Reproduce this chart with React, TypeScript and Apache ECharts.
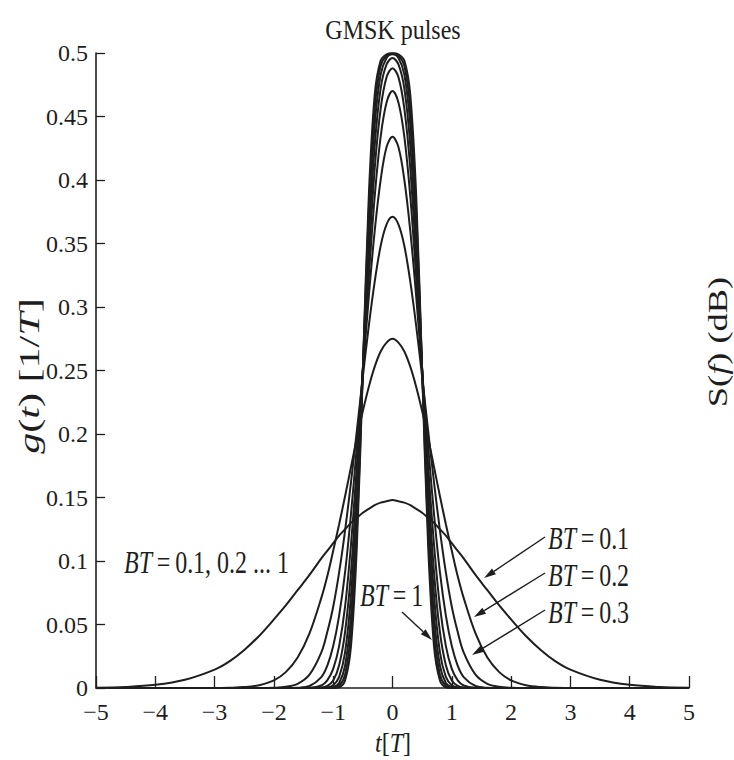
import React, { useEffect, useRef } from 'react';
import * as echarts from 'echarts';

const FONT = "'Liberation Serif', 'Times New Roman', Times, serif";
const INK = '#1e1e1e';

// t values (in units of T) for the right half of each symmetric pulse; the left half mirrors it
const T_HALF = [0, 0.1, 0.2, 0.3, 0.4, 0.5, 0.6, 0.7, 0.8, 0.9, 1.0, 1.1, 1.2, 1.4, 1.6, 1.8, 2.0, 2.25, 2.5, 2.75, 3.0, 3.5, 4.0, 4.5, 5.0];

// g(t) [1/T], one list per BT
const G_BT_01 = [0.148, 0.147, 0.146, 0.144, 0.141, 0.138, 0.134, 0.130, 0.125, 0.120, 0.114, 0.108, 0.102, 0.089, 0.077, 0.065, 0.054, 0.041, 0.030, 0.021, 0.0145, 0.0065, 0.0025, 0.0008, 0.0002];
const G_BT_02 = [0.275, 0.272, 0.265, 0.253, 0.237, 0.218, 0.197, 0.174, 0.151, 0.129, 0.108, 0.088, 0.071, 0.043, 0.024, 0.0125, 0.006, 0.0022, 0.0007, 0.0002, 0, 0, 0, 0, 0];
const G_BT_03 = [0.371, 0.365, 0.348, 0.320, 0.285, 0.245, 0.203, 0.162, 0.124, 0.091, 0.064, 0.044, 0.028, 0.0105, 0.0033, 0.0009, 0.0002, 0, 0, 0, 0, 0, 0, 0, 0];
const G_BT_04 = [0.434, 0.426, 0.400, 0.360, 0.308, 0.249, 0.191, 0.137, 0.091, 0.057, 0.033, 0.0175, 0.0086, 0.0016, 0.0002, 0, 0, 0, 0, 0, 0, 0, 0, 0, 0];
const G_BT_05 = [0.470, 0.461, 0.434, 0.387, 0.323, 0.250, 0.176, 0.113, 0.064, 0.033, 0.015, 0.006, 0.002, 0.0002, 0, 0, 0, 0, 0, 0, 0, 0, 0, 0, 0];
const G_BT_06 = [0.488, 0.481, 0.456, 0.409, 0.337, 0.250, 0.163, 0.091, 0.044, 0.018, 0.006, 0.0017, 0.0004, 0, 0, 0, 0, 0, 0, 0, 0, 0, 0, 0, 0];
const G_BT_07 = [0.496, 0.491, 0.472, 0.427, 0.351, 0.250, 0.149, 0.073, 0.028, 0.0087, 0.0021, 0.0004, 0, 0, 0, 0, 0, 0, 0, 0, 0, 0, 0, 0, 0];
const G_BT_08 = [0.499, 0.496, 0.483, 0.443, 0.364, 0.250, 0.137, 0.057, 0.0175, 0.004, 0.0007, 0.0001, 0, 0, 0, 0, 0, 0, 0, 0, 0, 0, 0, 0, 0];
const G_BT_09 = [0.4997, 0.498, 0.490, 0.456, 0.376, 0.250, 0.124, 0.044, 0.0104, 0.0016, 0.0002, 0, 0, 0, 0, 0, 0, 0, 0, 0, 0, 0, 0, 0, 0];
const G_BT_10 = [0.4999, 0.499, 0.494, 0.467, 0.387, 0.250, 0.113, 0.033, 0.006, 0.0006, 0.0001, 0, 0, 0, 0, 0, 0, 0, 0, 0, 0, 0, 0, 0, 0];

const BT_NAMES = ['BT=0.1', 'BT=0.2', 'BT=0.3', 'BT=0.4', 'BT=0.5', 'BT=0.6', 'BT=0.7', 'BT=0.8', 'BT=0.9', 'BT=1'];
const BT_CURVES = [G_BT_01, G_BT_02, G_BT_03, G_BT_04, G_BT_05, G_BT_06, G_BT_07, G_BT_08, G_BT_09, G_BT_10];

const X_MIN = -5;
const X_MAX = 5;
const X_STEP = 1;
const Y_MIN = 0;
const Y_MAX = 0.5;
const Y_STEP = 0.05;

const TITLE = 'GMSK pulses';

function symmetric(ts: number[], gs: number[]): number[][] {
  const out: number[][] = [];
  for (let i = ts.length - 1; i > 0; i--) out.push([-ts[i], gs[i]]);
  for (let i = 0; i < ts.length; i++) out.push([ts[i], gs[i]]);
  return out;
}

function richStyles(size: number) {
  return {
    i: { fontFamily: FONT, fontStyle: 'italic', fontSize: size, fill: INK },
    r: { fontFamily: FONT, fontStyle: 'normal', fontSize: size, fill: INK },
  };
}

function label(text: string, x: number, y: number, size: number, align: string, extra: any = {}) {
  return {
    type: 'text',
    x,
    y,
    scaleY: 1.32,
    silent: true,
    ...extra,
    style: {
      text,
      rich: richStyles(size),
      fontFamily: FONT,
      fontSize: size,
      fill: INK,
      align,
      verticalAlign: 'middle',
    },
  };
}

function arrow(x1: number, y1: number, x2: number, y2: number) {
  const dx = x2 - x1;
  const dy = y2 - y1;
  const len = Math.hypot(dx, dy);
  const ux = dx / len;
  const uy = dy / len;
  const hl = 12;
  const hw = 3.5;
  const bx = x2 - ux * hl;
  const by = y2 - uy * hl;
  return [
    { type: 'line', silent: true, shape: { x1, y1, x2: bx, y2: by }, style: { stroke: INK, lineWidth: 1.4 } },
    {
      type: 'polygon',
      silent: true,
      shape: { points: [[x2, y2], [bx - uy * hw, by + ux * hw], [bx + uy * hw, by - ux * hw]] },
      style: { fill: INK },
    },
  ];
}

export default function App() {
  const ref = useRef<HTMLDivElement>(null);

  useEffect(() => {
    document.body.style.margin = '0';
    if (!ref.current) return;
    const chart = echarts.init(ref.current, undefined, { renderer: 'svg' });

    const series = BT_CURVES.map((g, k) => ({
      name: BT_NAMES[k],
      type: 'line',
      data: symmetric(T_HALF, g),
      showSymbol: false,
      smooth: 0.35,
      silent: true,
      lineStyle: { color: INK, width: 2 },
      z: 3,
    }));

    const graphics: any[] = [
      {
        type: 'text',
        x: 393,
        y: 30,
        scaleY: 1.15,
        silent: true,
        style: { text: TITLE, fontFamily: FONT, fontSize: 24, fill: INK, align: 'center', verticalAlign: 'middle' },
      },
      {
        type: 'text',
        x: 29,
        y: 376,
        rotation: Math.PI / 2,
        scaleX: 1.45,
        silent: true,
        style: {
          text: '{i|g}({i|t}) [1/{i|T}]',
          rich: richStyles(29),
          fontFamily: FONT,
          fontSize: 29,
          fill: INK,
          align: 'center',
          verticalAlign: 'middle',
        },
      },
      {
        type: 'text',
        x: 393,
        y: 743,
        scaleY: 1.1,
        silent: true,
        style: {
          text: '{i|t}[{i|T}]',
          rich: richStyles(24),
          fontFamily: FONT,
          fontSize: 24,
          fill: INK,
          align: 'center',
          verticalAlign: 'middle',
        },
      },
      {
        type: 'text',
        x: 718,
        y: 342,
        rotation: Math.PI / 2,
        scaleX: 1.3,
        silent: true,
        style: {
          text: 'S({i|f}) (dB)',
          rich: richStyles(28),
          fontFamily: FONT,
          fontSize: 28,
          fill: INK,
          align: 'center',
          verticalAlign: 'middle',
        },
      },
      label('{i|BT}\u2009=\u20090.1, 0.2 ... 1', 124, 562, 24, 'left'),
      label('{i|BT}\u2009=\u20091', 360, 595, 24, 'left'),
      label('{i|BT}\u2009=\u20090.1', 548, 538, 24, 'left'),
      label('{i|BT}\u2009=\u20090.2', 548, 575, 24, 'left'),
      label('{i|BT}\u2009=\u20090.3', 548, 612, 24, 'left'),
      ...arrow(545, 537, 484, 578),
      ...arrow(545, 573, 474, 617),
      ...arrow(545, 610, 472, 655),
      ...arrow(402, 612, 432, 640),
    ];

    chart.setOption({
      animation: false,
      backgroundColor: '#ffffff',
      grid: { left: 96, right: 45, top: 53, bottom: 72 },
      xAxis: {
        type: 'value',
        min: X_MIN,
        max: X_MAX,
        interval: X_STEP,
        splitLine: { show: false },
        axisLine: { show: true, onZero: false, lineStyle: { color: INK, width: 1.6 } },
        axisTick: { show: true, inside: true, length: 12, lineStyle: { color: INK, width: 1.3 } },
        axisLabel: {
          fontFamily: FONT,
          fontSize: 24,
          color: INK,
          margin: 12,
          formatter: (v: number) => (v < 0 ? '\u2212' + Math.abs(v) : String(v)),
        },
      },
      yAxis: {
        type: 'value',
        min: Y_MIN,
        max: Y_MAX,
        interval: Y_STEP,
        splitLine: { show: false },
        axisLine: { show: true, onZero: false, lineStyle: { color: INK, width: 1.6 } },
        axisTick: { show: true, inside: true, length: 9, lineStyle: { color: INK, width: 1.3 } },
        axisLabel: {
          fontFamily: FONT,
          fontSize: 24,
          color: INK,
          margin: 8,
          formatter: (v: number) => String(parseFloat(v.toFixed(2))),
        },
      },
      series,
      graphic: { elements: graphics },
    });

    return () => {
      chart.dispose();
    };
  }, []);

  return <div ref={ref} style={{ width: 734, height: 760, position: 'absolute', left: 0, top: 0 }} />;
}
